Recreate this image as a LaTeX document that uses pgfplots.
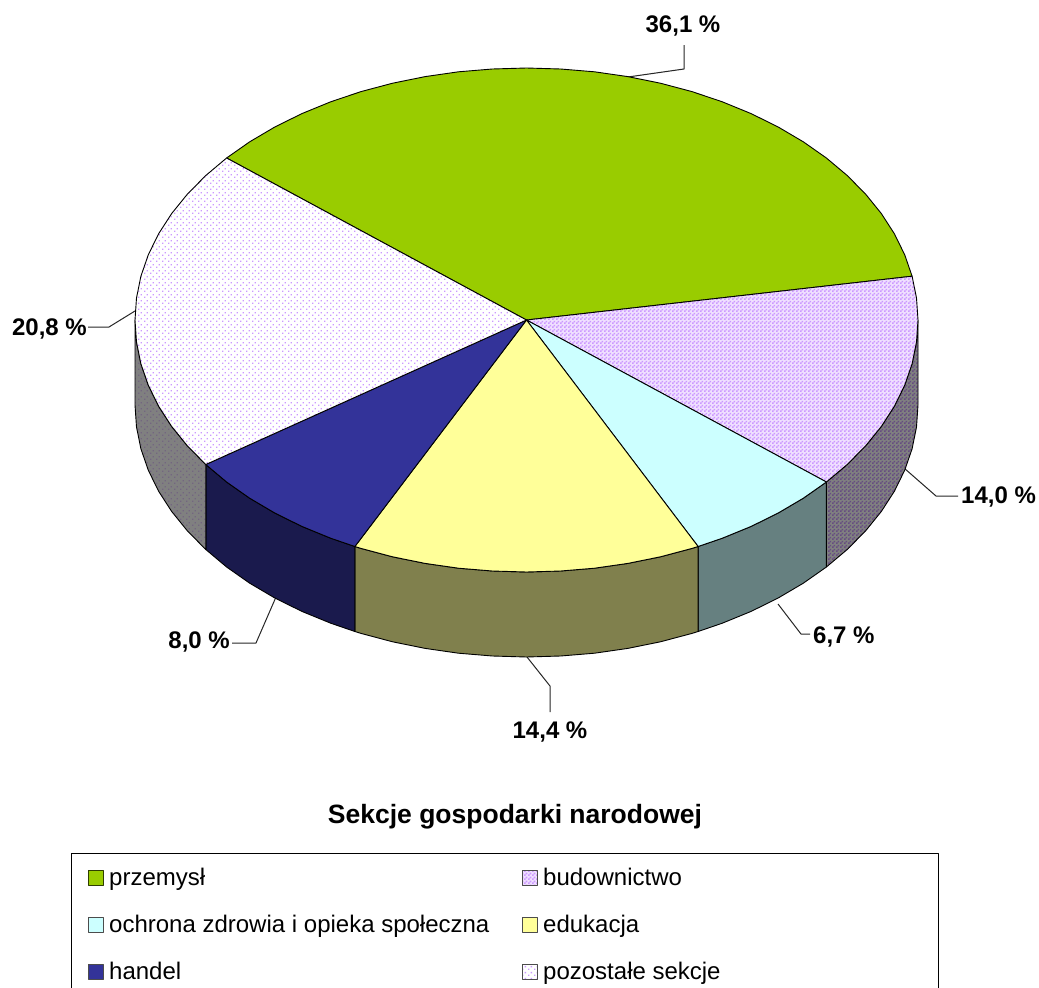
\documentclass[border=0pt]{standalone}
\usepackage{pgfplots}
\pgfplotsset{compat=1.18}
\usepackage{pgfplotstable}
\usepackage{fontspec}
\setmainfont{Liberation Sans}
\usetikzlibrary{patterns}
\pgfdeclarepatternformonly{mycheck}{\pgfqpoint{0pt}{0pt}}{\pgfqpoint{4pt}{4pt}}{\pgfqpoint{4pt}{4pt}}{%
 \pgfpathrectangle{\pgfqpoint{0pt}{0pt}}{\pgfqpoint{2pt}{2pt}}%
 \pgfpathrectangle{\pgfqpoint{2pt}{2pt}}{\pgfqpoint{2pt}{2pt}}\pgfusepath{fill}}
\pgfdeclarepatternformonly{mydots}{\pgfqpoint{0pt}{0pt}}{\pgfqpoint{6pt}{6pt}}{\pgfqpoint{6pt}{6pt}}{%
 \pgfpathrectangle{\pgfqpoint{0pt}{0pt}}{\pgfqpoint{1.6pt}{1.6pt}}%
 \pgfpathrectangle{\pgfqpoint{3pt}{3pt}}{\pgfqpoint{1.6pt}{1.6pt}}\pgfusepath{fill}}
\definecolor{cA}{HTML}{99CC00}
\definecolor{cB}{HTML}{CC99FF}
\definecolor{cC}{HTML}{CCFFFF}
\definecolor{cD}{HTML}{FFFF99}
\definecolor{cE}{HTML}{333399}
\definecolor{sB}{HTML}{664D80}
\definecolor{sC}{HTML}{668080}
\definecolor{sD}{HTML}{80804D}
\definecolor{sE}{HTML}{1A1A4D}
\definecolor{sG}{HTML}{736680}
% top faces, image coordinates
\pgfplotstableread{
526.5 320
226.6 158
249.7 141.8
274.8 127
301.9 113.6
330.7 101.8
361 91.6
392.6 83.2
425.2 76.6
458.5 71.8
492.4 69
526.5 68
560.6 69
594.5 71.8
627.8 76.6
660.4 83.2
692 91.6
722.3 101.8
751.1 113.6
778.2 127
803.3 141.8
826.4 158
847.2 175.5
865.5 194
881.3 213.5
894.4 233.8
904.7 254.8
912.1 276.2
}\tA
\pgfplotstableread{
526.5 320
912.1 276.2
916.5 298
918 320
916.5 342
912.1 363.8
904.7 385.2
894.4 406.2
881.3 426.5
865.5 446
847.2 464.5
826.4 482
}\tB
\pgfplotstableread{
526.5 320
826.4 482
803.3 498.2
778.2 513
751.1 526.4
722.3 538.2
698.1 546.5
}\tC
\pgfplotstableread{
526.5 320
698.1 546.5
692 548.4
660.4 556.8
627.8 563.4
594.5 568.2
560.6 571
526.5 572
492.4 571
458.5 568.2
425.2 563.4
392.6 556.8
361 548.4
354.9 546.5
}\tD
\pgfplotstableread{
526.5 320
354.9 546.5
330.7 538.2
301.9 526.4
274.8 513
249.7 498.2
226.6 482
205.8 464.5
}\tE
\pgfplotstableread{
526.5 320
205.8 464.5
187.5 446
171.7 426.5
158.6 406.2
148.3 385.2
140.9 363.8
136.5 342
135 320
136.5 298
140.9 276.2
148.3 254.8
158.6 233.8
171.7 213.5
187.5 194
205.8 175.5
226.6 158
}\tF
% side faces
\pgfplotstableread{
918 320
916.5 342
912.1 363.8
904.7 385.2
894.4 406.2
881.3 426.5
865.5 446
847.2 464.5
826.4 482
826.4 567
847.2 549.5
865.5 531
881.3 511.5
894.4 491.2
904.7 470.2
912.1 448.8
916.5 427
918 405
}\sdB
\pgfplotstableread{
826.4 482
803.3 498.2
778.2 513
751.1 526.4
722.3 538.2
698.1 546.5
698.1 631.5
722.3 623.2
751.1 611.4
778.2 598
803.3 583.2
826.4 567
}\sdC
\pgfplotstableread{
698.1 546.5
692 548.4
660.4 556.8
627.8 563.4
594.5 568.2
560.6 571
526.5 572
492.4 571
458.5 568.2
425.2 563.4
392.6 556.8
361 548.4
354.9 546.5
354.9 631.5
361 633.4
392.6 641.8
425.2 648.4
458.5 653.2
492.4 656
526.5 657
560.6 656
594.5 653.2
627.8 648.4
660.4 641.8
692 633.4
698.1 631.5
}\sdD
\pgfplotstableread{
354.9 546.5
330.7 538.2
301.9 526.4
274.8 513
249.7 498.2
226.6 482
205.8 464.5
205.8 549.5
226.6 567
249.7 583.2
274.8 598
301.9 611.4
330.7 623.2
354.9 631.5
}\sdE
\pgfplotstableread{
205.8 464.5
187.5 446
171.7 426.5
158.6 406.2
148.3 385.2
140.9 363.8
136.5 342
135 320
135 405
136.5 427
140.9 448.8
148.3 470.2
158.6 491.2
171.7 511.5
187.5 531
205.8 549.5
}\sdF
\pgfplotstableread{
88.5 870
103 870
103 885
88.5 885
}\swA
\pgfplotstableread{
522 870
537 870
537 885
522 885
}\swB
\pgfplotstableread{
88.5 917
103 917
103 932
88.5 932
}\swC
\pgfplotstableread{
522 917
537 917
537 932
522 932
}\swD
\pgfplotstableread{
88.5 964
103 964
103 979
88.5 979
}\swE
\pgfplotstableread{
522 964
537 964
537 979
522 979
}\swF
\newcommand\lab{\fontsize{24}{28}\selectfont}
\begin{document}
\begin{tikzpicture}
\useasboundingbox (0,0) rectangle (1039pt,988pt);
\begin{axis}[
  at={(0,0)},anchor=south west,
  width=1039pt,height=988pt,scale only axis,
  xmin=0,xmax=1039,ymin=0,ymax=988,y dir=reverse,
  hide axis,clip mode=individual,
  every axis plot/.append style={line width=0.9pt,line join=round},
]
% leader lines
\addplot[black!85,no markers,line width=1pt] coordinates {(628,77)(684,69)(684,45)};
\addplot[black!85,no markers,line width=1pt] coordinates {(904,468)(936,496)(958,496)};
\addplot[black!85,no markers,line width=1pt] coordinates {(778,604)(801,634)(810,634)};
\addplot[black!85,no markers,line width=1pt] coordinates {(527,657)(550,686)(550,712)};
\addplot[black!85,no markers,line width=1pt] coordinates {(276,597)(256,643)(232,643)};
\addplot[black!85,no markers,line width=1pt] coordinates {(135,311)(109,327)(88,327)};
% sides
\addplot[fill=black!50,draw=none] table {\sdB} --cycle;
\addplot[pattern=mycheck,pattern color=sB,draw=black] table {\sdB} --cycle;
\addplot[fill=sC,draw=black] table {\sdC} --cycle;
\addplot[fill=sD,draw=black] table {\sdD} --cycle;
\addplot[fill=sE,draw=black] table {\sdE} --cycle;
\addplot[fill=black!50,draw=none] table {\sdF} --cycle;
\addplot[pattern=mydots,pattern color=sG,draw=black] table {\sdF} --cycle;
% tops
\addplot[fill=cA,draw=black] table {\tA} --cycle;
\addplot[fill=cB!30,draw=none] table {\tB} --cycle;
\addplot[pattern=mycheck,pattern color=cB,draw=black] table {\tB} --cycle;
\addplot[fill=cC,draw=black] table {\tC} --cycle;
\addplot[fill=cD,draw=black] table {\tD} --cycle;
\addplot[fill=cE,draw=black] table {\tE} --cycle;
\addplot[fill=white,draw=none] table {\tF} --cycle;
\addplot[pattern=mydots,pattern color=cB,draw=black] table {\tF} --cycle;
% value labels
\node[font=\lab\bfseries,inner sep=0pt,anchor=center] at (axis cs:683,26) {36,1 \%};
\node[font=\lab\bfseries,inner sep=0pt,anchor=west] at (axis cs:961,497) {14,0 \%};
\node[font=\lab\bfseries,inner sep=0pt,anchor=west] at (axis cs:813,637) {6,7 \%};
\node[font=\lab\bfseries,inner sep=0pt,anchor=center] at (axis cs:550,732) {14,4 \%};
\node[font=\lab\bfseries,inner sep=0pt,anchor=east] at (axis cs:230,642) {8,0 \%};
\node[font=\lab\bfseries,inner sep=0pt,anchor=east] at (axis cs:87,329) {20,8 \%};
\node[font=\fontsize{26.5}{30}\selectfont\bfseries,inner sep=0pt,anchor=center] at (axis cs:515,817) {Sekcje gospodarki narodowej};
% legend frame
\addplot[black,no markers,line width=1pt] coordinates {(71,995)(71,853)(938,853)(938,995)};
\addplot[fill=cA,draw=black!70!cA] table {\swA} --cycle;
\addplot[fill=cB!30,draw=none] table {\swB} --cycle;
\addplot[pattern=mycheck,pattern color=cB,draw=black!70] table {\swB} --cycle;
\addplot[fill=cC,draw=black!70] table {\swC} --cycle;
\addplot[fill=cD,draw=black!70] table {\swD} --cycle;
\addplot[fill=cE,draw=black!70] table {\swE} --cycle;
\addplot[fill=white,draw=none] table {\swF} --cycle;
\addplot[pattern=mydots,pattern color=cB,draw=black!70] table {\swF} --cycle;
\node[font=\lab,inner sep=0pt,anchor=base west] at (axis cs:109,885) {przemysł};
\node[font=\lab,inner sep=0pt,anchor=base west] at (axis cs:543,885) {budownictwo};
\node[font=\lab,inner sep=0pt,anchor=base west] at (axis cs:109,932) {ochrona zdrowia i opieka społeczna};
\node[font=\lab,inner sep=0pt,anchor=base west] at (axis cs:543,932) {edukacja};
\node[font=\lab,inner sep=0pt,anchor=base west] at (axis cs:109,979) {handel};
\node[font=\lab,inner sep=0pt,anchor=base west] at (axis cs:543,979) {pozostałe sekcje};
\end{axis}
\end{tikzpicture}
\end{document}
